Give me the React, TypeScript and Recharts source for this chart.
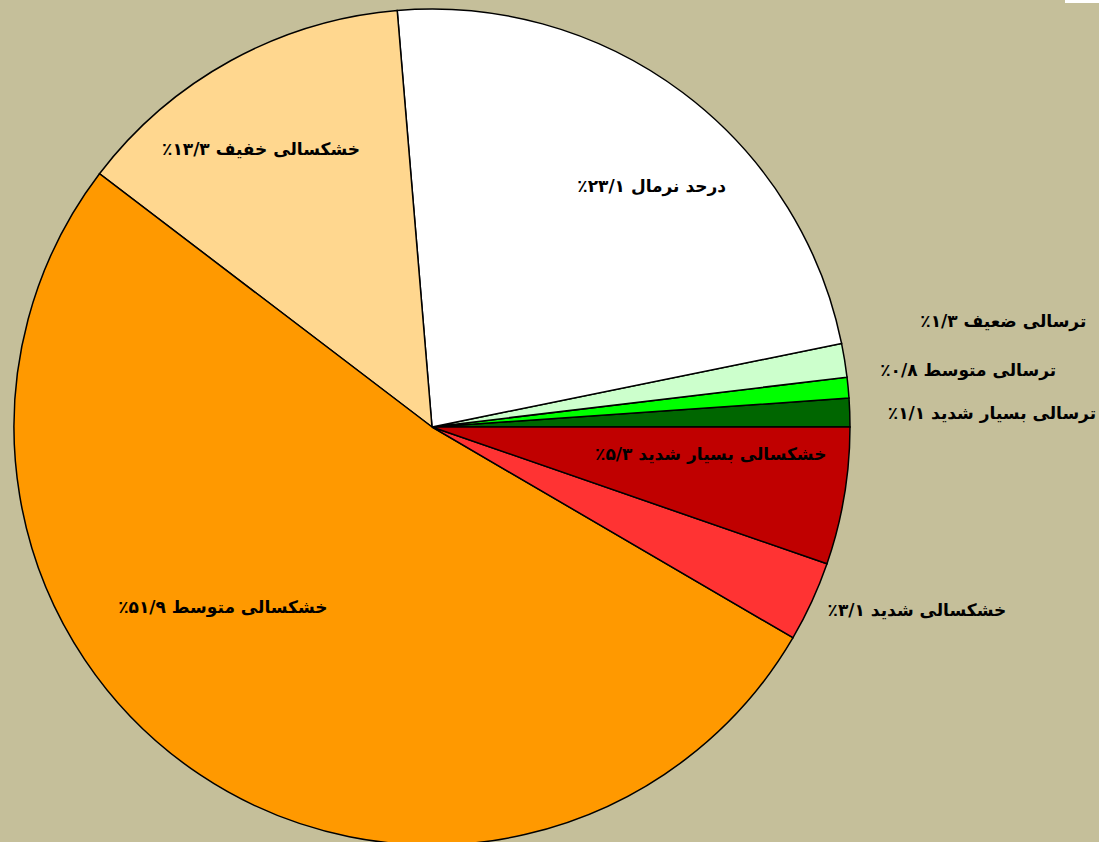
import { PieChart, Pie, Cell } from 'recharts';

// counterclockwise from 3 o'clock
const LABELS = [
  'ترسالی بسیار شدید',
  'ترسالی متوسط',
  'ترسالی ضعیف',
  'درحد نرمال',
  'خشکسالی خفیف',
  'خشکسالی متوسط',
  'خشکسالی شدید',
  'خشکسالی بسیار شدید',
];
const VALUES = [1.1, 0.8, 1.3, 23.1, 13.3, 51.9, 3.1, 5.3];
const VALUE_TEXT = ['۱/۱', '۰/۸', '۱/۳', '۲۳/۱', '۱۳/۳', '۵۱/۹', '۳/۱', '۵/۳'];
const COLORS = ['#006600', '#00FF00', '#CCFFCC', '#FFFFFF', '#FFD78F', '#FF9900', '#FF3333', '#C00000'];

// label placement: radius factor and angle nudge (deg)
const LABEL_R = [1.34, 1.29, 1.39, 0.78, 0.78, 0.66, 1.24, 0.67];
const LABEL_DA = [-0.5, 0.7, 1.3, -5.5, 2.9, -15.5, 4, 4];

const data = LABELS.map((name, i) => ({ name, value: VALUES[i], text: VALUE_TEXT[i] }));

const RAD = Math.PI / 180;

const renderLabel = (props: any) => {
  const { cx, cy, midAngle, outerRadius, index } = props;
  const a = (midAngle + LABEL_DA[index]) * RAD;
  const r = outerRadius * LABEL_R[index];
  const x = cx + r * Math.cos(-a);
  const y = cy + r * Math.sin(-a);
  return (
    <text
      x={x}
      y={y}
      textAnchor="middle"
      dominantBaseline="central"
      direction="rtl"
      fill="#000"
      fontSize={17}
      fontWeight="bold"
      fontFamily="'DejaVu Sans', sans-serif"
    >
      {`${LABELS[index]} ${VALUE_TEXT[index]}٪`}
    </text>
  );
};

export default function App() {
  return (
    <div style={{ position: 'fixed', left: 0, top: 0, width: 1099, height: 842, background: '#C5BF9A', overflow: 'hidden' }}>
      <div style={{ position: 'absolute', right: 0, top: 0, width: 34, height: 3, background: '#fff' }} />
      <PieChart width={1099} height={842} margin={{ top: 0, right: 0, bottom: 0, left: 0 }}>
        <Pie
          data={data}
          dataKey="value"
          cx={432}
          cy={427}
          outerRadius={418}
          startAngle={0}
          endAngle={360}
          stroke="#000"
          strokeWidth={1.5}
          label={renderLabel}
          labelLine={false}
          isAnimationActive={false}
        >
          {data.map((d, i) => (
            <Cell key={d.name} fill={COLORS[i]} />
          ))}
        </Pie>
      </PieChart>
    </div>
  );
}
